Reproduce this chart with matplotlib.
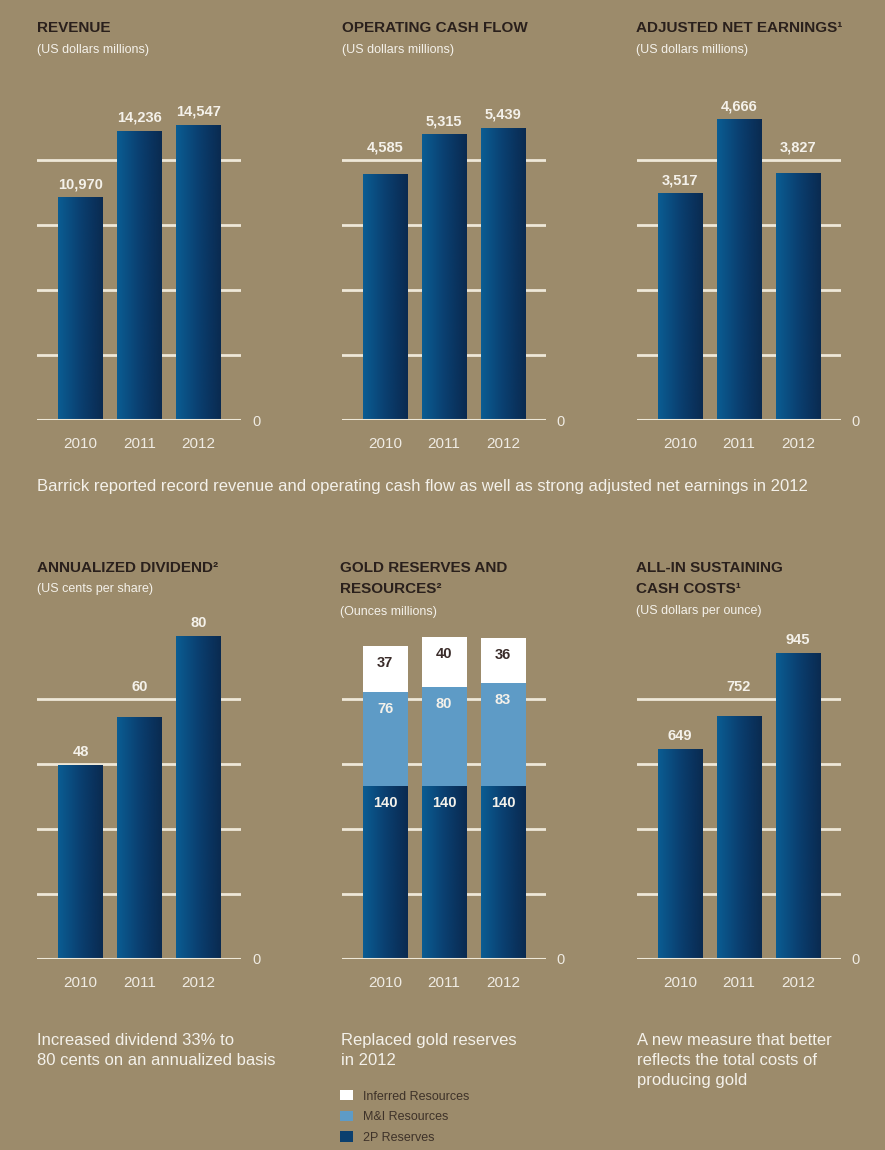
import numpy as np
import matplotlib.pyplot as plt
from matplotlib.colors import LinearSegmentedColormap

plt.rcParams['font.family'] = ['Liberation Sans', 'DejaVu Sans']

# ---------------------------------------------------------------- data
years = ['2010', '2011', '2012']

revenue = [10970, 14236, 14547]
op_cash_flow = [4585, 5315, 5439]
adj_net_earnings = [3517, 4666, 3827]
dividend = [48, 60, 80]
reserves_2p = [140, 140, 140]
resources_mi = [76, 80, 83]
resources_inferred = [37, 40, 36]
aisc = [649, 752, 945]

# value between two gridlines in each panel
rev_step = 3200
ocf_step = 1210
ane_step = 1008
div_step = 16.1
gold_step = 52.5
aisc_step = 201

# ---------------------------------------------------------------- style
W, H = 885, 1150
BG = '#9C8B6B'
GRID = '#EEE8D8'
TXT_LIGHT = '#F4F1EA'
TXT_DARK = '#2A201C'
LIGHT_BLUE = '#5E9BC6'
NAVY = '#0B3F6E'
bar_cmap = LinearSegmentedColormap.from_list('bar', ['#0B5D93', '#0A3F70', '#0A2A50'])

GRID_PX = 65      # pixels between gridlines
AX_H = 330
AX_W = 204
LEFTS = [37, 341.5, 636.5]
ZERO_Y = [420, 959]

fig = plt.figure(figsize=(W / 100, H / 100), dpi=100)
fig.patch.set_facecolor(BG)


def px(x, y):
    return x / W, 1 - y / H


def make_ax(left, zero_y, step):
    ax = fig.add_axes([left / W, (H - zero_y) / H, AX_W / W, AX_H / H])
    ax.set_facecolor('none')
    for s in ax.spines.values():
        s.set_visible(False)
    ax.set_xlim(-43.5 / 59, (AX_W - 43.5) / 59)
    ax.set_ylim(0, step * AX_H / GRID_PX)
    for k in range(1, 5):
        ax.axhline(k * step, color=GRID, lw=2, zorder=1)
    ax.axhline(0, color=GRID, lw=2.2, zorder=5)
    ax.set_xticks(range(len(years)))
    ax.set_xticklabels(years, fontsize=11, color='#EFEBE3')
    ax.tick_params(axis='x', length=0, pad=12)
    ax.yaxis.tick_right()
    ax.set_yticks([0])
    ax.set_yticklabels(['0'], fontsize=10.5, color='#EFEBE3')
    ax.tick_params(axis='y', length=0, pad=8)
    return ax


def gradient(ax, bars):
    xl, yl = ax.get_xlim(), ax.get_ylim()
    grad = np.linspace(0, 1, 256).reshape(1, -1)
    for b in bars:
        x, y = b.get_x(), b.get_y()
        w, h = b.get_width(), b.get_height()
        im = ax.imshow(grad, cmap=bar_cmap, extent=(x, x + w, y, y + h),
                       aspect='auto', zorder=b.get_zorder() + 0.1,
                       interpolation='bicubic')
        im.set_clip_path(b)
    ax.set_xlim(xl)
    ax.set_ylim(yl)


def simple_panel(left, zero_y, step, values):
    ax = make_ax(left, zero_y, step)
    bars = ax.bar(range(len(values)), values, width=45 / 59, color=NAVY, zorder=3)
    gradient(ax, bars)
    per_px = step / GRID_PX
    for i, v in enumerate(values):
        # label sits just above the bar, or above a gridline that would cut it
        anchor, off = v, 9
        for k in range(1, 5):
            if v < k * step < v + 22 * per_px:
                anchor, off = k * step, 8
        ax.annotate(f'{v:,}', (i, anchor), xytext=(0, off), textcoords='offset pixels',
                    ha='center', va='baseline', color=TXT_LIGHT,
                    fontsize=10.5, fontweight='bold', zorder=6)
    return ax


def title(x, lines, y0, sub, sub_y):
    for i, t in enumerate(lines):
        fig.text(*px(x, y0 + 21 * i), t, fontsize=11, fontweight='bold',
                 color=TXT_DARK, va='baseline', ha='left')
    fig.text(*px(x, sub_y), sub, fontsize=9, color=TXT_LIGHT, va='baseline',
             ha='left')


# ---------------------------------------------------------------- top row
simple_panel(LEFTS[0], ZERO_Y[0], rev_step, revenue)
simple_panel(LEFTS[1], ZERO_Y[0], ocf_step, op_cash_flow)
simple_panel(LEFTS[2], ZERO_Y[0], ane_step, adj_net_earnings)

title(37, ['REVENUE'], 32, '(US dollars millions)', 53)
title(342, ['OPERATING CASH FLOW'], 32, '(US dollars millions)', 53)
title(636, ['ADJUSTED NET EARNINGS¹'], 32, '(US dollars millions)', 53)

fig.text(*px(37, 491), 'Barrick reported record revenue and operating cash flow as well '
         'as strong adjusted net earnings in 2012', fontsize=12, color=TXT_LIGHT,
         va='baseline', ha='left')

# ---------------------------------------------------------------- bottom row
simple_panel(LEFTS[0], ZERO_Y[1], div_step, dividend)
simple_panel(LEFTS[2], ZERO_Y[1], aisc_step, aisc)

ax = make_ax(LEFTS[1], ZERO_Y[1], gold_step)
x = np.arange(len(years))
mi_bottom = np.array(reserves_2p)
inf_bottom = mi_bottom + np.array(resources_mi)
b_2p = ax.bar(x, reserves_2p, width=45 / 59, color=NAVY, zorder=3, label='2P Reserves')
b_mi = ax.bar(x, resources_mi, bottom=mi_bottom, width=45 / 59, color=LIGHT_BLUE,
              zorder=3, label='M&I Resources')
b_inf = ax.bar(x, resources_inferred, bottom=inf_bottom, width=45 / 59, color='white',
               zorder=3, label='Inferred Resources')
gradient(ax, b_2p)
for vals, bottoms, col in [(reserves_2p, np.zeros(3), TXT_LIGHT),
                           (resources_mi, mi_bottom, TXT_LIGHT),
                           (resources_inferred, inf_bottom, '#3A2C2A')]:
    for i, (v, b0) in enumerate(zip(vals, bottoms)):
        ax.annotate(f'{v}', (i, b0 + v), xytext=(0, -21), textcoords='offset pixels',
                    ha='center', va='baseline', color=col, fontsize=10.5,
                    fontweight='bold', zorder=6)

title(37, ['ANNUALIZED DIVIDEND²'], 572, '(US cents per share)', 592)
title(340, ['GOLD RESERVES AND', 'RESOURCES²'], 572, '(Ounces millions)', 615)
title(636, ['ALL-IN SUSTAINING', 'CASH COSTS¹'], 572, '(US dollars per ounce)', 614)

captions = [
    (37, ['Increased dividend 33% to', '80 cents on an annualized basis']),
    (341, ['Replaced gold reserves', 'in 2012']),
    (637, ['A new measure that better', 'reflects the total costs of', 'producing gold']),
]
for cx, lines in captions:
    for i, t in enumerate(lines):
        fig.text(*px(cx, 1045 + 20 * i), t, fontsize=12, color=TXT_LIGHT,
                 va='baseline', ha='left')

leg = fig.legend(handles=[b_inf, b_mi, b_2p], loc='upper left',
                 bbox_to_anchor=px(340, 1090), frameon=False, fontsize=9,
                 handlelength=1.05, handleheight=0.9, handletextpad=0.8,
                 labelspacing=0.65, borderpad=0, borderaxespad=0,
                 labelcolor='#3E3229')

fig.savefig('out.png', dpi=100, facecolor=BG)
